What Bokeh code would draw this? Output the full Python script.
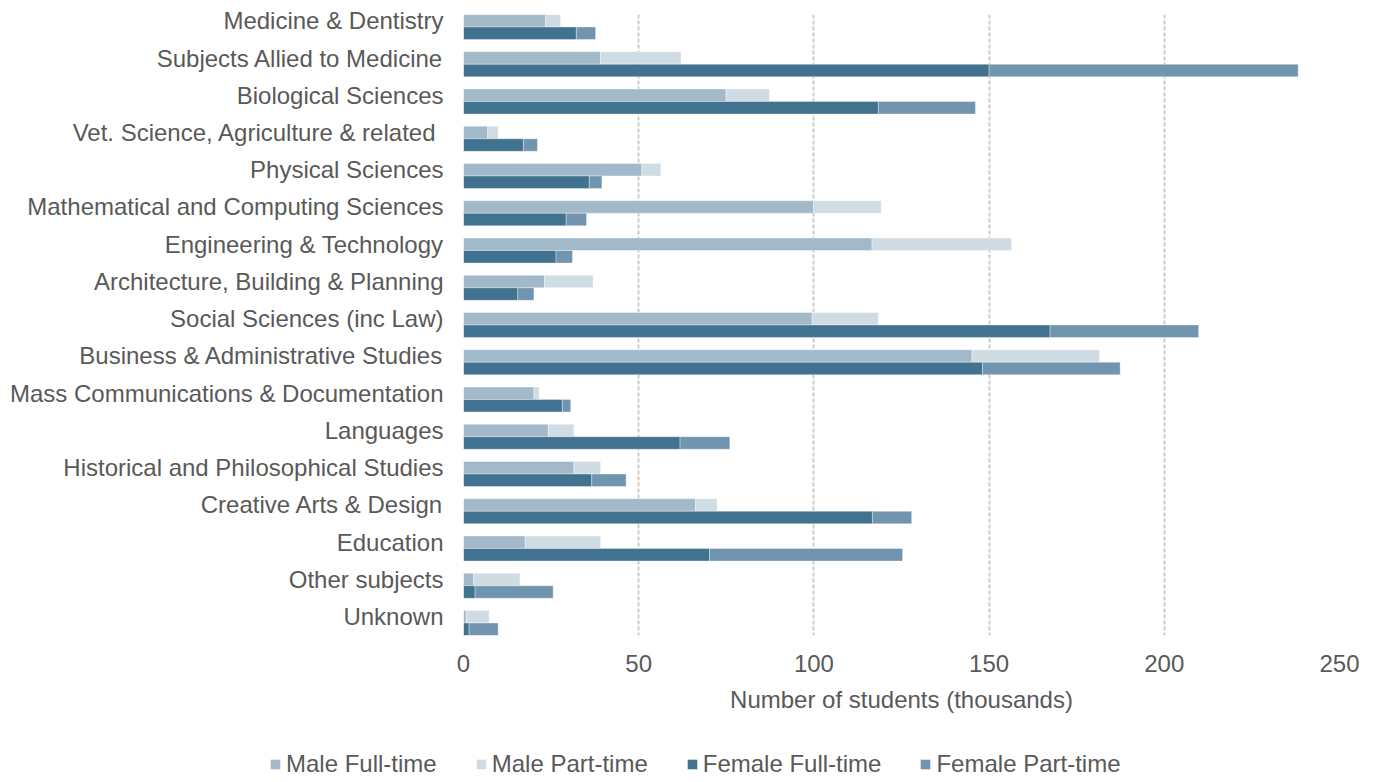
import numpy as np
from bokeh.plotting import figure
from bokeh.layouts import column, row
from bokeh.models import Range1d, FixedTicker, Legend, LegendItem
from bokeh.embed import file_html
from bokeh.resources import INLINE

categories = [
    "Medicine & Dentistry",
    "Subjects Allied to Medicine",
    "Biological Sciences",
    "Vet. Science, Agriculture & related ",
    "Physical Sciences",
    "Mathematical and Computing Sciences",
    "Engineering & Technology",
    "Architecture, Building & Planning",
    "Social Sciences (inc Law)",
    "Business & Administrative Studies",
    "Mass Communications & Documentation",
    "Languages",
    "Historical and Philosophical Studies",
    "Creative Arts & Design",
    "Education",
    "Other subjects",
    "Unknown",
]
male_ft = [23.4, 39.1, 74.9, 6.9, 50.9, 99.9, 116.6, 23.1, 99.5, 145.1, 20.1, 24.2, 31.5, 66.2, 17.6, 2.9, 0.8]
male_pt = [4.3, 23.0, 12.4, 3.0, 5.4, 19.3, 39.8, 13.9, 18.9, 36.4, 1.5, 7.3, 7.6, 6.2, 21.5, 13.2, 6.5]
female_ft = [32.2, 150.0, 118.4, 17.1, 35.9, 29.3, 26.4, 15.5, 167.4, 148.1, 28.2, 61.8, 36.6, 116.7, 70.2, 3.3, 1.6]
female_pt = [5.5, 88.2, 27.7, 4.0, 3.6, 5.8, 4.7, 4.6, 42.4, 39.3, 2.4, 14.2, 9.8, 11.2, 55.1, 22.3, 8.3]
series_names = ["Male Full-time", "Male Part-time", "Female Full-time", "Female Part-time"]
x_ticks = [0, 50, 100, 150, 200, 250]

colors = ["#a2b9c9", "#d0dce4", "#41728f", "#7195ae"]
TEXT = "#595959"
FONT = "Liberation Sans"

n = len(categories)
step = 100.0
bh = 33.6
y_male = np.arange(n) * step
y_fem = y_male + bh

mft = np.array(male_ft)
mpt = np.array(male_pt)
fft = np.array(female_ft)
fpt = np.array(female_pt)

p = figure(width=1362, height=734, output_backend="svg", toolbar_location=None,
           x_range=Range1d(0, 250),
           y_range=Range1d((n - 1) * step + bh + bh / 2, -bh / 2),
           min_border_left=463, min_border_right=23, min_border_top=14, min_border_bottom=99)
p.outline_line_color = None
p.background_fill_color = "white"
p.border_fill_color = "white"

kw = dict(height=bh, line_color="white", line_alpha=0.35, line_width=1)
r1 = p.hbar(y=y_male, left=0, right=mft, fill_color=colors[0], **kw)
r2 = p.hbar(y=y_male, left=mft, right=mft + mpt, fill_color=colors[1], **kw)
r3 = p.hbar(y=y_fem, left=0, right=fft, fill_color=colors[2], **kw)
r4 = p.hbar(y=y_fem, left=fft, right=fft + fpt, fill_color=colors[3], **kw)

# x axis
p.xaxis.ticker = FixedTicker(ticks=x_ticks)
p.xaxis.axis_line_color = None
p.xaxis.major_tick_line_color = None
p.xaxis.minor_tick_line_color = None
p.xaxis.major_label_standoff = 13
p.xaxis.major_label_text_font = FONT
p.xaxis.major_label_text_font_size = "24px"
p.xaxis.major_label_text_color = TEXT
p.xaxis.axis_label = "Number of students (thousands)"
p.xaxis.axis_label_text_font = FONT
p.xaxis.axis_label_text_font_size = "24px"
p.xaxis.axis_label_text_font_style = "normal"
p.xaxis.axis_label_text_color = TEXT
p.xaxis.axis_label_standoff = 11

# y axis
p.yaxis.ticker = FixedTicker(ticks=[int(v) for v in y_male])
p.yaxis.major_label_overrides = {int(v): c for v, c in zip(y_male, categories)}
p.yaxis.axis_line_color = None
p.yaxis.major_tick_line_color = None
p.yaxis.minor_tick_line_color = None
p.yaxis.major_label_standoff = 14
p.yaxis.major_label_text_font = FONT
p.yaxis.major_label_text_font_size = "24px"
p.yaxis.major_label_text_color = TEXT

p.ygrid.grid_line_color = None
p.xgrid.grid_line_color = "#cbcbcb"
p.xgrid.grid_line_width = 2
p.xgrid.grid_line_dash = "4 2"

# legend strip (separate figure so the legend is not clipped by the chart frame)
lf = figure(width=1362, height=46, output_backend="svg", toolbar_location=None,
            x_axis_type=None, y_axis_type=None, x_range=Range1d(0, 1), y_range=Range1d(0, 1),
            min_border_left=0, min_border_right=0, min_border_top=0, min_border_bottom=0)
lf.outline_line_color = None
lf.xgrid.visible = False
lf.ygrid.visible = False
lf.background_fill_color = "white"
lf.border_fill_color = "white"
rs = [lf.hbar(y=[5], left=[5], right=[6], height=0.5, fill_color=c, line_color=None) for c in colors]
legend = Legend(items=[LegendItem(label=s, renderers=[r]) for s, r in zip(series_names, rs)],
                orientation="horizontal", location=(269, 2),
                glyph_width=12, glyph_height=12, label_standoff=5, spacing=38,
                padding=0, margin=0, border_line_color=None, background_fill_alpha=0,
                label_text_font=FONT, label_text_font_size="24px", label_text_color=TEXT,
                label_height=24)
lf.add_layout(legend)

layout = column(p, row(lf), spacing=0)
open("out.html", "w").write(file_html(layout, INLINE))
